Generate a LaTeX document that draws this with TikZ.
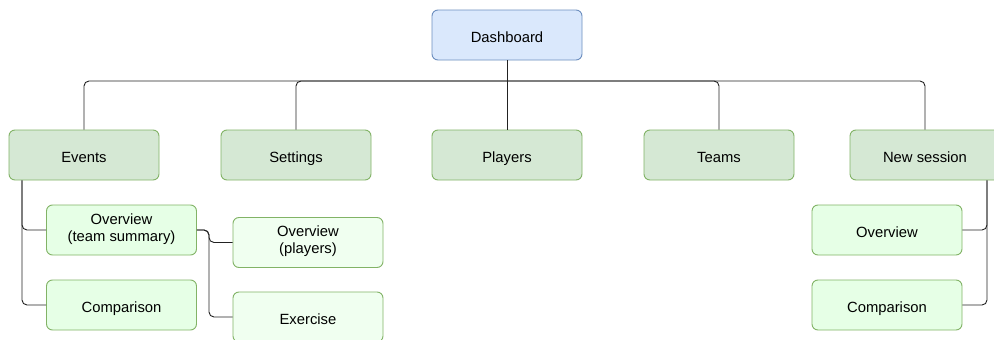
\documentclass[tikz,border=0pt]{standalone}
\usepackage{fontspec}
\setmainfont{Liberation Sans}
\definecolor{bluefill}{HTML}{DAE8FC}
\definecolor{bluestroke}{HTML}{6C8EBF}
\definecolor{greenfill}{HTML}{D5E8D4}
\definecolor{greenstroke}{HTML}{82B366}
\definecolor{lightfill}{HTML}{E6FFE6}
\definecolor{paleFill}{HTML}{F0FFF0}
\definecolor{wire}{HTML}{222222}
\begin{document}
\begin{tikzpicture}[x=1pt,y=-1pt,
  box/.style={draw, rounded corners=6pt, minimum width=150pt, minimum height=50pt, inner sep=0pt, align=center, font=\fontsize{14.8}{16.8}\selectfont, line width=0.9pt},
  oneline/.style={execute at begin node={\rule[-5pt]{0pt}{25pt}}},
  twoline/.style={execute at begin node=\strut, execute at end node=\strut},
  root/.style={box, oneline, fill=bluefill, draw=bluestroke},
  top/.style={box, oneline, fill=greenfill, draw=greenstroke},
  sub/.style={box, fill=lightfill, draw=greenstroke},
  subb/.style={box, fill=paleFill, draw=greenstroke},
  wirestyle/.style={draw=wire, line width=0.9pt, rounded corners=5pt}]
\useasboundingbox (0,0) rectangle (994,340);
\fill[white] (0,0) rectangle (994,340);
\node[root] (dash) at (507,35) {Dashboard};
\node[top] (events) at (84,155) {Events};
\node[top] (settings) at (296,155) {Settings};
\node[top] (players) at (507,155) {Players};
\node[top] (teams) at (719,155) {Teams};
\node[top] (newsess) at (925,155) {New session};
\node[sub, twoline] (ovts) at (121.5,230) {Overview\\(team summary)};
\node[sub, oneline] (comp1) at (121.5,305) {Comparison};
\node[subb, twoline] (ovpl) at (308,242.5) {Overview\\(players)};
\node[subb, oneline] (exer) at (308,317) {Exercise};
\node[sub, oneline] (ov2) at (887,230) {Overview};
\node[sub, oneline] (comp2) at (887,305) {Comparison};
\coordinate (bus) at (507,81);
\draw[wirestyle] (dash.south) -- (players.north);
\draw[wirestyle] (bus) -| (events.north);
\draw[wirestyle] (bus) -| (settings.north);
\draw[wirestyle] (bus) -| (teams.north);
\draw[wirestyle] (bus) -| (newsess.north);
\draw[wirestyle] (events.south -| 22,0) |- (ovts.west);
\draw[wirestyle] (events.south -| 22,0) |- (comp1.west);
\draw[wirestyle] (ovts.east) -- (209,230) |- (ovpl.west);
\draw[wirestyle] (ovts.east) -- (209,230) |- (exer.west);
\draw[wirestyle] (newsess.south -| 987,0) |- (ov2.east);
\draw[wirestyle] (newsess.south -| 987,0) |- (comp2.east);
\end{tikzpicture}
\end{document}
